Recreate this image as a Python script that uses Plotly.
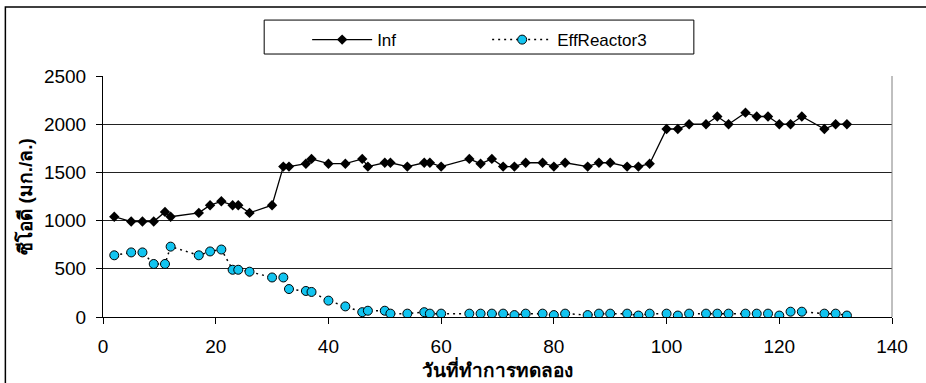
import plotly.graph_objects as go

# Sampling days of the experiment
days = [2, 5, 7, 9, 11, 12, 17, 19, 21, 23, 24, 26, 30, 32, 33, 36, 37, 40, 43,
        46, 47, 50, 51, 54, 57, 58, 60, 65, 67, 69, 71, 73, 75, 78, 80, 82, 86,
        88, 90, 93, 95, 97, 100, 102, 104, 107, 109, 111, 114, 116, 118, 120,
        122, 124, 128, 130, 132]

# Influent COD (mg/L)
inf_cod = [1040, 990, 990, 990, 1090, 1040, 1080, 1160, 1200, 1160, 1160, 1080,
           1160, 1560, 1560, 1590, 1640, 1590, 1590, 1640, 1560, 1600, 1600,
           1560, 1600, 1600, 1560, 1640, 1590, 1640, 1560, 1560, 1600, 1600,
           1560, 1600, 1560, 1600, 1600, 1560, 1560, 1590, 1950, 1950, 2000,
           2000, 2080, 2000, 2120, 2080, 2080, 2000, 2000, 2080, 1950, 2000, 2000]

# Effluent COD of reactor 3 (mg/L)
eff_cod = [640, 670, 670, 550, 550, 730, 640, 680, 700, 490, 490, 470, 410, 410,
           290, 270, 260, 170, 110, 50, 65, 65, 35, 35, 50, 35, 35, 35, 35, 35,
           35, 20, 35, 35, 20, 35, 20, 35, 35, 35, 15, 35, 35, 15, 35, 35, 35,
           35, 35, 35, 35, 15, 55, 55, 35, 35, 15]

series_names = ["Inf", "EffReactor3"]
x_title = "วันที่ทำการทดลอง"
y_title = "ซีโอดี (มก./ล.)"
x_ticks = [0, 20, 40, 60, 80, 100, 120, 140]
y_ticks = [0, 500, 1000, 1500, 2000, 2500]

W, H = 926, 383
L, R, T, B = 102.7, 892.3, 76.0, 317.3
pw, ph = R - L, B - T


def px_x(p):
    return (p - L) / pw


def px_y(p):
    return (B - p) / ph


FONT = "Liberation Sans, Arial, DejaVu Sans, sans-serif"

fig = go.Figure()
fig.add_trace(go.Scatter(
    x=days, y=inf_cod, name=series_names[0], mode="lines+markers",
    line=dict(color="black", width=1.3),
    marker=dict(symbol="diamond", size=8, color="black"),
))
fig.add_trace(go.Scatter(
    x=days, y=eff_cod, name=series_names[1], mode="lines+markers",
    line=dict(color="black", width=1.5, dash="2px,4px"),
    marker=dict(symbol="circle", size=9, color="#12C4F0",
                line=dict(color="black", width=1)),
))

# outer chart frame (left and top edges visible), legend box, right plot border
shapes = [
    dict(type="rect", xref="paper", yref="paper",
         x0=px_x(5), x1=px_x(W + 20), y0=px_y(H + 20), y1=px_y(7),
         line=dict(color="black", width=1.5), fillcolor="rgba(0,0,0,0)",
         layer="below"),
    dict(type="rect", xref="paper", yref="paper",
         x0=px_x(264), x1=px_x(694), y0=px_y(54), y1=px_y(20),
         line=dict(color="black", width=1), fillcolor="rgba(0,0,0,0)"),
    dict(type="line", xref="paper", yref="paper",
         x0=1, x1=1, y0=0, y1=1, line=dict(color="#808080", width=1)),
]

fig.update_layout(
    width=W, height=H,
    margin=dict(l=L, r=W - R, t=T, b=H - B, pad=0),
    paper_bgcolor="white", plot_bgcolor="white",
    font=dict(family=FONT, size=19, color="black"),
    shapes=shapes,
    showlegend=True,
    legend=dict(orientation="h", x=px_x(307), y=px_y(22), xanchor="left",
                yanchor="top", bgcolor="rgba(0,0,0,0)", borderwidth=0,
                font=dict(size=17), itemwidth=60, entrywidth=105,
                entrywidthmode="pixels"),
    xaxis=dict(range=[0, 140], tickvals=x_ticks, ticks="outside", ticklen=6,
               tickcolor="black", showline=True, linecolor="black",
               linewidth=1, showgrid=False, zeroline=False,
               ticklabelstandoff=6,
               title=dict(text="<b>" + x_title + "</b>", standoff=2,
                          font=dict(size=19))),
    yaxis=dict(range=[0, 2500], tickvals=y_ticks, ticks="outside", ticklen=6,
               tickcolor="black", showline=True, linecolor="black",
               linewidth=1, showgrid=True, gridcolor="#222222", gridwidth=1,
               zeroline=False, ticklabelstandoff=6,
               title=dict(text="<b>" + y_title + "</b>", standoff=6,
                          font=dict(size=19))),
)

fig.write_html("out.html")
